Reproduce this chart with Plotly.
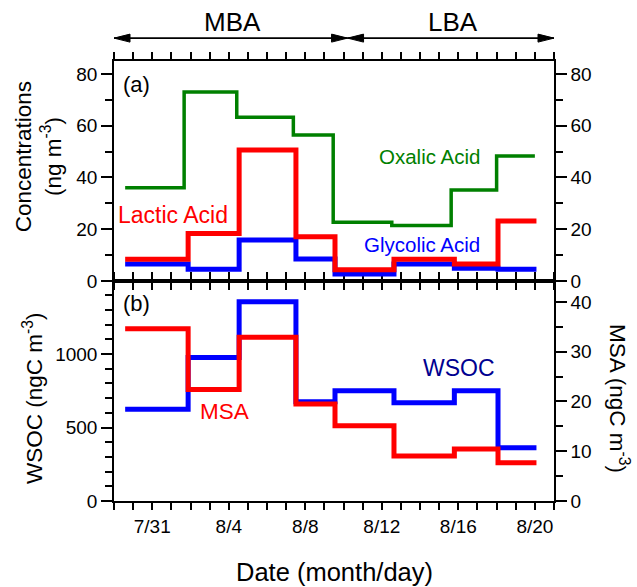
import plotly.graph_objects as go

# ---------------- data ----------------
# sample period edges (start of each sample, last element = end of last sample)
edges = ['2014-07-29 14:00', '2014-08-01 21:00', '2014-08-04 13:00', '2014-08-07 12:15',
         '2014-08-09 13:15', '2014-08-12 15:15', '2014-08-15 19:00', '2014-08-18 01:45',
         '2014-08-20 02:00']
oxalic_edges = ['2014-07-29 14:00', '2014-08-01 16:00', '2014-08-04 10:00', '2014-08-07 09:00',
                '2014-08-09 11:00', '2014-08-12 12:30', '2014-08-15 15:00', '2014-08-18 00:00',
                '2014-08-20 00:00']

oxalic = [36, 73, 63.3, 56.4, 22.7, 21.4, 35.2, 48.3]
lactic = [8.4, 18.4, 50.6, 17.1, 4.3, 8.4, 6.6, 23.2]
glycolic = [6.6, 4.5, 15.8, 8.5, 2.7, 6.6, 4.9, 4.5]
wsoc = [624, 977, 1356, 676, 750, 669, 750, 363]
msa = [34.6, 22.4, 32.9, 19.5, 15.1, 9.05, 10.45, 7.7]

x_range = ['2014-07-29', '2014-08-21']
period_bounds = ['2014-07-29', '2014-08-10 05:00', '2014-08-21']
period_names = ['MBA', 'LBA']

FONT = 'Liberation Sans, Arial, sans-serif'
GREEN = '#008000'
RED = '#ff0000'
BLUE = '#0000ff'
NAVY = '#000090'


def step(vals):
    return list(vals) + [vals[-1]]


fig = go.Figure()

# panel (a)
fig.add_trace(go.Scatter(x=oxalic_edges, y=step(oxalic), mode='lines', line_shape='hv',
                         line=dict(color=GREEN, width=3.5), xaxis='x2', yaxis='y2',
                         name='Oxalic Acid'))
fig.add_trace(go.Scatter(x=edges, y=step(glycolic), mode='lines', line_shape='hv',
                         line=dict(color=BLUE, width=5), xaxis='x2', yaxis='y2',
                         name='Glycolic Acid'))
fig.add_trace(go.Scatter(x=edges, y=step(lactic), mode='lines', line_shape='hv',
                         line=dict(color=RED, width=5), xaxis='x2', yaxis='y4',
                         name='Lactic Acid'))
# panel (b)
fig.add_trace(go.Scatter(x=edges, y=step(wsoc), mode='lines', line_shape='hv',
                         line=dict(color=BLUE, width=5), xaxis='x', yaxis='y',
                         name='WSOC'))
fig.add_trace(go.Scatter(x=edges, y=step(msa), mode='lines', line_shape='hv',
                         line=dict(color=RED, width=5), xaxis='x', yaxis='y3',
                         name='MSA'))

DAY = 86400000
tickfont = dict(family=FONT, size=19, color='black')

xcommon = dict(range=x_range, type='date', showgrid=False, zeroline=False,
               showline=True, linecolor='black', linewidth=1.5, mirror='ticks',
               ticks='outside', ticklen=7, tickwidth=1.5, tickcolor='black',
               tick0='2014-07-31', dtick=4 * DAY, tickformat='%-m/%-d', tickfont=tickfont,
               minor=dict(dtick=DAY, tick0='2014-07-29', ticks='outside', ticklen=7,
                          tickwidth=1.5, tickcolor='black', showgrid=False))

ycommon = dict(showgrid=False, zeroline=False, showline=True, linecolor='black',
               linewidth=1.5, ticks='outside', ticklen=11, tickwidth=1.5,
               tickcolor='black', tickfont=tickfont)

fig.update_layout(
    width=637, height=587, autosize=False,
    margin=dict(l=114, r=83, t=61, b=86),
    paper_bgcolor='white', plot_bgcolor='white',
    showlegend=False,
    font=dict(family=FONT, color='black'),
    xaxis=dict(domain=[0, 1], anchor='y', **xcommon),
    xaxis2=dict(domain=[0, 1], anchor='y2', matches='x', showticklabels=False, **xcommon),
    yaxis=dict(domain=[0, 0.5], anchor='x', range=[0, 1497], dtick=500,
               minor=dict(dtick=100, ticks='outside', ticklen=7, tickwidth=1.5,
                          tickcolor='black', showgrid=False), **ycommon),
    yaxis3=dict(overlaying='y', side='right', anchor='x', range=[0, 44.2], dtick=10,
                minor=dict(dtick=5, ticks='outside', ticklen=7, tickwidth=1.5,
                           tickcolor='black', showgrid=False), **ycommon),
    yaxis2=dict(domain=[0.5, 1], anchor='x2', range=[0, 85], dtick=20,
                minor=dict(dtick=10, ticks='outside', ticklen=7, tickwidth=1.5,
                           tickcolor='black', showgrid=False), **ycommon),
    yaxis4=dict(overlaying='y2', side='right', anchor='x2', range=[0, 85], dtick=20,
                minor=dict(dtick=10, ticks='outside', ticklen=7, tickwidth=1.5,
                           tickcolor='black', showgrid=False), **ycommon),
)


def ann(text, x, y, size, color='black', angle=0):
    fig.add_annotation(text=text, x=x, y=y, xref='paper', yref='paper',
                       xanchor='center', yanchor='middle', showarrow=False,
                       textangle=angle, font=dict(family=FONT, size=size, color=color))


# panel labels & series labels
ann('(a)', 0.052, 0.9455, 22)
ann('Oxalic Acid', 0.716, 0.782, 20.5, GREEN)
ann('Lactic Acid', 0.134, 0.650, 23, RED)
ann('Glycolic Acid', 0.700, 0.584, 20.5, BLUE)
ann('(b)', 0.052, 0.450, 22)
ann('MSA', 0.250, 0.2023, 22.5, RED)
ann('WSOC', 0.784, 0.302, 23, NAVY)

# axis titles
ann('Date (month/day)', 0.502, -0.161, 25.5)
ann('Concentrations<br>(ng m<sup>-3</sup>)', -0.172, 0.782, 22.5, angle=-90)
ann('WSOC (ngC m<sup>-3</sup>)', -0.184, 0.234, 22.5, angle=-90)
ann('MSA (ngC m<sup>-3</sup>)', 1.148, 0.234, 22.5, angle=90)

# period arrows above the plot
ARROW_Y = 1.052
for i, name in enumerate(period_names):
    x0, x1 = period_bounds[i], period_bounds[i + 1]
    fig.add_shape(type='line', xref='x2', yref='paper', x0=x0, x1=x1, y0=ARROW_Y, y1=ARROW_Y,
                  line=dict(color='black', width=1.8))
    fig.add_shape(type='path', xref='x2', yref='paper', xsizemode='pixel', ysizemode='pixel',
                  xanchor=x0, yanchor=ARROW_Y, path='M0,0 L16,4 L16,-4 Z',
                  fillcolor='black', line=dict(color='black', width=1))
    fig.add_shape(type='path', xref='x2', yref='paper', xsizemode='pixel', ysizemode='pixel',
                  xanchor=x1, yanchor=ARROW_Y, path='M0,0 L-16,4 L-16,-4 Z',
                  fillcolor='black', line=dict(color='black', width=1))

ann('MBA', (232.5 - 114) / 440, (501 - 22) / 440, 26)
ann('LBA', (453 - 114) / 440, (501 - 22) / 440, 26)

fig.write_html('out.html', config={'displayModeBar': False},
               post_script="document.body.style.margin='0';document.body.style.overflow='hidden';")
